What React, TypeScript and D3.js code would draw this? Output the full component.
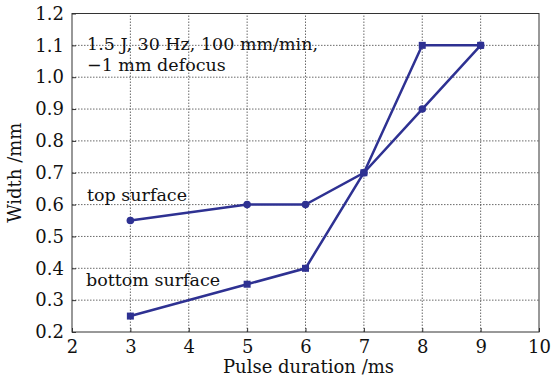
import { useEffect, useRef } from "react";
import * as d3 from "d3";

const pulse = [3, 5, 6, 7, 8, 9];
const topSurface = [0.55, 0.6, 0.6, 0.7, 0.9, 1.1];
const bottomSurface = [0.25, 0.35, 0.4, 0.7, 1.1, 1.1];
const xTicks = [2, 3, 4, 5, 6, 7, 8, 9, 10];
const yTicks = [0.2, 0.3, 0.4, 0.5, 0.6, 0.7, 0.8, 0.9, 1.0, 1.1, 1.2];

const width = 552;
const height = 378;
const color = "#2e3192";
const font = "DejaVu Serif";

const App = () => {
    const svgRef = useRef<SVGSVGElement>(null);

    useEffect(() => {
        if (!svgRef.current) return;
        const svg = d3.select(svgRef.current);
        svg.selectAll("*").remove();

        const margin = { top: 13.5, right: 13, bottom: 46, left: 72 };
        const x = d3.scaleLinear().domain([2, 10]).range([margin.left, width - margin.right]);
        const y = d3.scaleLinear().domain([0.2, 1.2]).range([height - margin.bottom, margin.top]);

        svg.append("rect").attr("width", width).attr("height", height).attr("fill", "#fff");

        // grid
        const grid = svg.append("g").attr("stroke", "#444").attr("stroke-width", 0.8).attr("stroke-dasharray", "1.5,1.5");
        xTicks.slice(1, -1).forEach(t => {
            grid.append("line").attr("x1", x(t)).attr("x2", x(t)).attr("y1", y(0.2)).attr("y2", y(1.2));
        });
        yTicks.slice(1, -1).forEach(t => {
            grid.append("line").attr("x1", x(2)).attr("x2", x(10)).attr("y1", y(t)).attr("y2", y(t));
        });

        svg.append("rect")
            .attr("x", x(2)).attr("y", y(1.2))
            .attr("width", x(10) - x(2)).attr("height", y(0.2) - y(1.2))
            .attr("fill", "none").attr("stroke", "#333").attr("stroke-width", 1);

        const xAxis = svg.append("g")
            .attr("transform", `translate(0,${y(0.2)})`)
            .call(d3.axisBottom(x).tickValues(xTicks).tickSize(-4).tickPadding(8).tickFormat(d3.format("d")));
        const yAxis = svg.append("g")
            .attr("transform", `translate(${x(2)},0)`)
            .call(d3.axisLeft(y).tickValues(yTicks).tickSize(-4).tickPadding(8).tickFormat(d3.format(".1f")));
        [xAxis, yAxis].forEach(a => {
            a.select(".domain").remove();
            a.selectAll("line").attr("stroke", "#333");
            a.selectAll("text").attr("fill", "#111").attr("font-family", font).attr("font-size", 18);
        });

        const line = d3.line<[number, number]>().x(d => x(d[0])).y(d => y(d[1]));
        const topData = pulse.map((p, i) => [p, topSurface[i]] as [number, number]);
        const bottomData = pulse.map((p, i) => [p, bottomSurface[i]] as [number, number]);

        [topData, bottomData].forEach(data => {
            svg.append("path").datum(data)
                .attr("fill", "none").attr("stroke", color).attr("stroke-width", 2.5)
                .attr("d", line);
        });
        svg.selectAll(".cdot").data(topData).enter().append("circle")
            .attr("cx", d => x(d[0])).attr("cy", d => y(d[1])).attr("r", 3.8).attr("fill", color);
        svg.selectAll(".sdot").data(bottomData).enter().append("rect")
            .attr("x", d => x(d[0]) - 3.5).attr("y", d => y(d[1]) - 3.5)
            .attr("width", 7).attr("height", 7).attr("fill", color);

        const label = (tx: number, ty: number, s: string) =>
            svg.append("text").attr("x", tx).attr("y", ty).attr("fill", "#111")
                .attr("font-family", font).attr("font-size", 17.5).text(s);

        label(87, 50, "1.5 J, 30 Hz, 100 mm/min,");
        label(87, 71, "\u22121 mm defocus");
        label(87, 201, "top surface");
        label(86, 286, "bottom surface");

        svg.append("text").attr("x", (x(2) + x(10)) / 2 + 3).attr("y", 373)
            .attr("text-anchor", "middle").attr("fill", "#111")
            .attr("font-family", font).attr("font-size", 18).text("Pulse duration /ms");
        svg.append("text").attr("transform", `translate(21,${(y(0.2) + y(1.2)) / 2}) rotate(-90)`)
            .attr("text-anchor", "middle").attr("fill", "#111")
            .attr("font-family", font).attr("font-size", 18).text("Width /mm");
    }, []);

    return <svg ref={svgRef} width={width} height={height} style={{ position: "absolute", left: 0, top: 0 }} />;
};

export default App;
